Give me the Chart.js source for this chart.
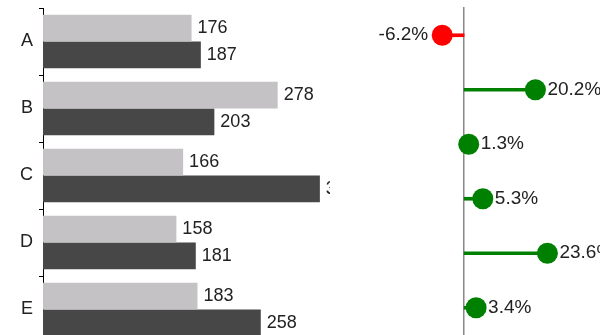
<!DOCTYPE html>
<html lang="en">
<head>
  <meta charset="UTF-8" />
  <title>Bars and deltas</title>
  <script src="https://cdn.jsdelivr.net/npm/chart.js"></script>
  <style>
    html, body {
      margin: 0;
      padding: 0;
      overflow: hidden;
      background: #fff;
      width: 600px;
      height: 335px;
    }
    canvas {
      position: absolute;
      top: 0;
      display: block;
    }
    #barChart { left: 0; }
    #deltaChart { left: 360px; }
  </style>
</head>
<body>
  <canvas id="barChart" width="330" height="343"></canvas>
  <canvas id="deltaChart" width="270" height="335"></canvas>

  <script>
    // data
    const categories = ['A', 'B', 'C', 'D', 'E'];
    const lightValues = [176, 278, 166, 158, 183];
    const darkValues = [187, 203, 328, 181, 258];
    const deltaRows = ['1', '2', '3', '4', '5', '6'];
    const deltaValues = [-6.2, 20.2, 1.3, 5.3, 23.6, 3.4];

    const FONT = '"Liberation Sans", Arial, sans-serif';
    const TEXT = '#222';
    const GREEN = '#008000';
    const RED = '#ff0000';

    Chart.defaults.font.family = FONT;
    Chart.defaults.animation = false;

    // draws the value next to every bar / point
    const valueLabels = {
      id: 'valueLabels',
      afterDatasetsDraw(chart, args, opts) {
        const ctx = chart.ctx;
        ctx.save();
        ctx.font = opts.size + 'px ' + FONT;
        ctx.fillStyle = TEXT;
        ctx.textBaseline = 'middle';
        chart.data.datasets.forEach((ds, di) => {
          if (opts.datasets && !opts.datasets.includes(di)) return;
          const meta = chart.getDatasetMeta(di);
          meta.data.forEach((el, i) => {
            const v = ds.data[i];
            const txt = opts.format ? opts.format(v) : String(v);
            if (v < 0) {
              ctx.textAlign = 'right';
              ctx.fillText(txt, el.x - opts.gapNeg, el.y);
            } else {
              ctx.textAlign = 'left';
              ctx.fillText(txt, el.x + opts.gap, el.y);
            }
          });
        });
        ctx.restore();
      }
    };

    // keep the category axis from reserving room for half labels
    const noPad = (s) => { s.paddingTop = 0; s.paddingBottom = 0; };

    new Chart(document.getElementById('barChart'), {
      type: 'bar',
      data: {
        labels: categories,
        datasets: [
          { data: lightValues, backgroundColor: '#c4c2c4' },
          { data: darkValues, backgroundColor: '#474747' }
        ]
      },
      options: {
        indexAxis: 'y',
        responsive: false,
        layout: { padding: { top: 8, right: 0, bottom: 0, left: 0 } },
        datasets: { bar: { barPercentage: 1.0, categoryPercentage: 0.8 } },
        plugins: {
          legend: { display: false },
          tooltip: { enabled: false },
          valueLabels: { gap: 6, gapNeg: 6, size: 18 }
        },
        scales: {
          x: { display: false, min: 0, max: 340 },
          y: {
            afterFit: (s) => { s.width = 43; noPad(s); },
            grid: {
              offset: true,
              drawOnChartArea: false,
              drawTicks: true,
              tickLength: 4,
              color: '#000'
            },
            border: { display: true, color: '#000', width: 1 },
            ticks: { color: TEXT, font: { size: 18 }, padding: 6 }
          }
        }
      },
      plugins: [valueLabels]
    });

    new Chart(document.getElementById('deltaChart'), {
      type: 'bar',
      data: {
        labels: deltaRows,
        datasets: [
          {
            type: 'line',
            indexAxis: 'y',
            data: deltaValues,
            showLine: false,
            pointRadius: 10.5,
            pointBorderWidth: 0,
            pointBackgroundColor: deltaValues.map(v => v < 0 ? RED : GREEN),
            clip: false,
            order: 0
          },
          {
            data: deltaValues,
            backgroundColor: deltaValues.map(v => v < 0 ? RED : GREEN),
            barThickness: 3,
            order: 1
          }
        ]
      },
      options: {
        indexAxis: 'y',
        responsive: false,
        layout: { autoPadding: false, padding: { top: 8, right: 0, bottom: 0, left: 0 } },
        plugins: {
          legend: { display: false },
          tooltip: { enabled: false },
          valueLabels: {
            gap: 12,
            gapNeg: 14,
            size: 19,
            datasets: [0],
            format: v => v.toFixed(1) + '%'
          }
        },
        scales: {
          x: { display: false, min: -29.5, max: 47 },
          y: {
            position: { x: 0 },
            afterFit: noPad,
            grid: { display: true, drawOnChartArea: false, drawTicks: false },
            ticks: { display: false },
            border: { display: true, color: '#888', width: 1.5 }
          }
        }
      },
      plugins: [valueLabels]
    });
  </script>
</body>
</html>
